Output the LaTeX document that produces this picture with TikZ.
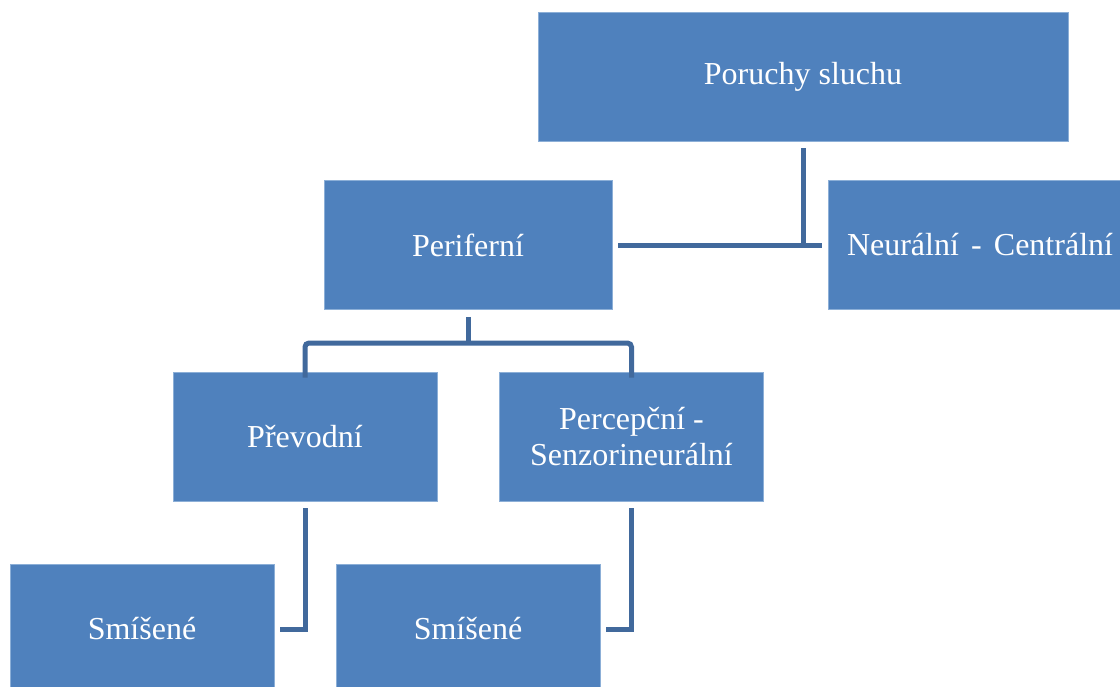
\documentclass[tikz,border=0pt]{standalone}
\usepackage{fontspec}
\setmainfont{Liberation Serif}
\definecolor{boxfill}{RGB}{79,129,189}
\definecolor{boxedge}{RGB}{140,175,215}
\definecolor{conn}{RGB}{65,105,156}
\begin{document}
\begin{tikzpicture}[x=1pt,y=-1pt,
  box/.style={rectangle, fill=boxfill, draw=boxedge, line width=0.8pt, text=white,
    font=\fontsize{32}{36}\selectfont, align=center, inner sep=0pt,
    minimum width=#1, minimum height=129pt},
  box/.default=264pt,
  link/.style={draw=conn, line width=5pt}]
\useasboundingbox (0,0) rectangle (1120,686);
\node[box=530pt] (root) at (803,76.5) {Poruchy sluchu};
\node[box=288pt] (per) at (468,245) {Periferní};
\node[box=292pt, text width=292pt] (neu) at (974,245) {\hspace*{12pt}Neurální\hspace{0.38em}-\hspace{0.38em}Centrální};
\node[box] (pre) at (305,436.5) {Převodní};
\node[box] (pse) at (631.5,436.5) {Percepční -\\Senzorineurální};
\node[box, minimum height=130pt] (sm1) at (142,629) {Smíšené};
\node[box, minimum height=130pt] (sm2) at (468,629) {Smíšené};
% root connector
\coordinate (r1) at ([yshift=-7pt]root.south);
\coordinate (rl) at ([xshift=6pt]per.east);
\coordinate (rr) at ([xshift=-6pt]neu.west);
\draw[link] (r1) -- (r1 |- per.east);
\draw[link] (rl) -- (rr);
% periferni connector
\coordinate (p1) at ([yshift=-7pt]per.south);
\coordinate (p2) at ([yshift=-6pt]pre.north);
\coordinate (p3) at ([yshift=-6pt]pse.north);
\draw[link] (p1) -- ++(0,27);
\draw[link, rounded corners=4pt] (p2) -- (p2 |- 0,343) -- (p3 |- 0,343) -- (p3);
% lower connectors
\coordinate (a1) at ([yshift=-7pt]pre.south);
\coordinate (a2) at ([xshift=6pt]sm1.east);
\draw[link] (a1) -- (a1 |- a2) -- (a2);
\coordinate (b1) at ([yshift=-7pt]pse.south);
\coordinate (b2) at ([xshift=6pt]sm2.east);
\draw[link] (b1) -- (b1 |- b2) -- (b2);
\end{tikzpicture}
\end{document}
